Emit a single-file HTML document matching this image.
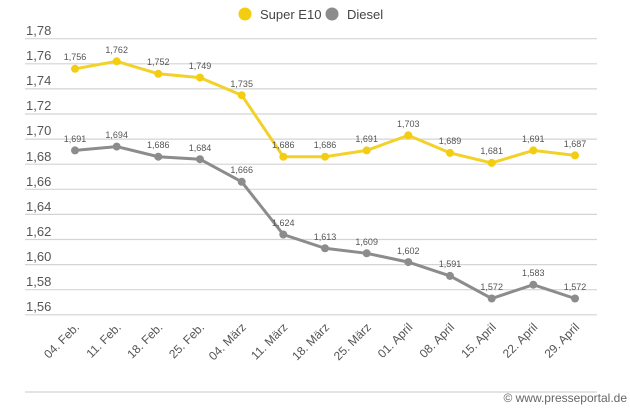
<!DOCTYPE html>
<html><head><meta charset="utf-8"><style>
html,body{margin:0;padding:0;background:#fff;}
svg{display:block;font-family:"Liberation Sans","DejaVu Sans",sans-serif;}
</style></head><body>
<svg width="630" height="412" viewBox="0 0 630 412">
<g stroke="#d4d4d4" stroke-width="1.2">
<line x1="25" x2="597" y1="38.7" y2="38.7"/><line x1="25" x2="597" y1="63.8" y2="63.8"/>
<line x1="25" x2="597" y1="88.9" y2="88.9"/><line x1="25" x2="597" y1="114" y2="114"/>
<line x1="25" x2="597" y1="139.1" y2="139.1"/><line x1="25" x2="597" y1="164.2" y2="164.2"/>
<line x1="25" x2="597" y1="189.3" y2="189.3"/><line x1="25" x2="597" y1="214.4" y2="214.4"/>
<line x1="25" x2="597" y1="239.5" y2="239.5"/><line x1="25" x2="597" y1="264.6" y2="264.6"/>
<line x1="25" x2="597" y1="289.7" y2="289.7"/><line x1="25" x2="597" y1="314.8" y2="314.8"/>
<line x1="25" x2="597" y1="392" y2="392"/>
</g>
<g font-size="13" fill="#555">
<text x="26" y="35">1,78</text><text x="26" y="60">1,76</text><text x="26" y="85">1,74</text>
<text x="26" y="110">1,72</text><text x="26" y="135">1,70</text><text x="26" y="161">1,68</text>
<text x="26" y="186">1,66</text><text x="26" y="211">1,64</text><text x="26" y="236">1,62</text>
<text x="26" y="261">1,60</text><text x="26" y="286">1,58</text><text x="26" y="311">1,56</text>
</g>
<circle cx="245" cy="14" r="6.5" fill="#f2cd12"/><text x="260" y="19" font-size="13" fill="#444">Super E10</text>
<circle cx="332" cy="14" r="6.5" fill="#8c8c8c"/><text x="347" y="19" font-size="13" fill="#444">Diesel</text>
<polyline fill="none" stroke="#f2d22a" stroke-width="3" points="75,68.8 116.7,61.3 158.3,73.8 200,77.6 241.7,95.2 283.3,156.7 325,156.7 366.7,150.4 408.3,135.3 450,152.9 491.7,162.9 533.3,150.4 575,155.4"/>
<g fill="#f2cd12"><circle cx="75" cy="68.8" r="4"/><circle cx="116.7" cy="61.3" r="4"/><circle cx="158.3" cy="73.8" r="4"/><circle cx="200" cy="77.6" r="4"/><circle cx="241.7" cy="95.2" r="4"/><circle cx="283.3" cy="156.7" r="4"/><circle cx="325" cy="156.7" r="4"/><circle cx="366.7" cy="150.4" r="4"/><circle cx="408.3" cy="135.3" r="4"/><circle cx="450" cy="152.9" r="4"/><circle cx="491.7" cy="162.9" r="4"/><circle cx="533.3" cy="150.4" r="4"/><circle cx="575" cy="155.4" r="4"/></g>
<polyline fill="none" stroke="#8c8c8c" stroke-width="3" points="75,150.4 116.7,146.6 158.3,156.7 200,159.2 241.7,181.8 283.3,234.5 325,248.3 366.7,253.3 408.3,262.1 450,275.9 491.7,298.5 533.3,284.7 575,298.5"/>
<g fill="#8c8c8c"><circle cx="75" cy="150.4" r="4"/><circle cx="116.7" cy="146.6" r="4"/><circle cx="158.3" cy="156.7" r="4"/><circle cx="200" cy="159.2" r="4"/><circle cx="241.7" cy="181.8" r="4"/><circle cx="283.3" cy="234.5" r="4"/><circle cx="325" cy="248.3" r="4"/><circle cx="366.7" cy="253.3" r="4"/><circle cx="408.3" cy="262.1" r="4"/><circle cx="450" cy="275.9" r="4"/><circle cx="491.7" cy="298.5" r="4"/><circle cx="533.3" cy="284.7" r="4"/><circle cx="575" cy="298.5" r="4"/></g>
<g font-size="9" fill="#555" text-anchor="middle">
<text x="75" y="60">1,756</text><text x="116.7" y="53">1,762</text><text x="158.3" y="65">1,752</text><text x="200" y="69">1,749</text><text x="241.7" y="87">1,735</text><text x="283.3" y="148">1,686</text><text x="325" y="148">1,686</text><text x="366.7" y="142">1,691</text><text x="408.3" y="127">1,703</text><text x="450" y="144">1,689</text><text x="491.7" y="154">1,681</text><text x="533.3" y="142">1,691</text><text x="575" y="147">1,687</text>
<text x="75" y="142">1,691</text><text x="116.7" y="138">1,694</text><text x="158.3" y="148">1,686</text><text x="200" y="151">1,684</text><text x="241.7" y="173">1,666</text><text x="283.3" y="226">1,624</text><text x="325" y="240">1,613</text><text x="366.7" y="245">1,609</text><text x="408.3" y="254">1,602</text><text x="450" y="267">1,591</text><text x="491.7" y="290">1,572</text><text x="533.3" y="276">1,583</text><text x="575" y="290">1,572</text>
</g>
<g font-size="12" fill="#555" text-anchor="end">
<text transform="translate(80,328) rotate(-45)">04. Feb.</text>
<text transform="translate(121.7,328) rotate(-45)">11. Feb.</text>
<text transform="translate(163.3,328) rotate(-45)">18. Feb.</text>
<text transform="translate(205,328) rotate(-45)">25. Feb.</text>
<text transform="translate(246.7,328) rotate(-45)">04. März</text>
<text transform="translate(288.3,328) rotate(-45)">11. März</text>
<text transform="translate(330,328) rotate(-45)">18. März</text>
<text transform="translate(371.7,328) rotate(-45)">25. März</text>
<text transform="translate(413.3,328) rotate(-45)">01. April</text>
<text transform="translate(455,328) rotate(-45)">08. April</text>
<text transform="translate(496.7,328) rotate(-45)">15. April</text>
<text transform="translate(538.3,328) rotate(-45)">22. April</text>
<text transform="translate(580,328) rotate(-45)">29. April</text>
</g>
<text x="627" y="402" font-size="12" fill="#666" text-anchor="end">© www.presseportal.de</text>
</svg>
</body></html>
